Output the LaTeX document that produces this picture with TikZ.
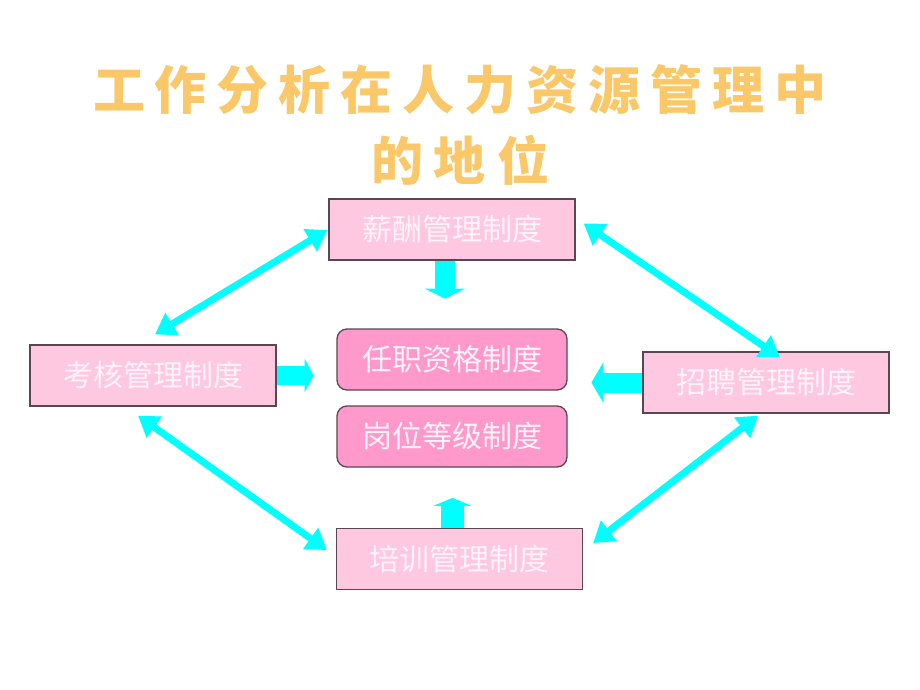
\documentclass[tikz,border=0pt]{standalone}
\usepackage{fontspec}
\newfontfamily\cjk{Noto Sans CJK SC}
\usetikzlibrary{arrows.meta,calc}
\definecolor{titlecol}{RGB}{250,200,105}
\definecolor{outerfill}{RGB}{255,200,225}
\definecolor{innerfill}{RGB}{255,153,204}
\definecolor{boxline}{RGB}{90,70,80}
\definecolor{boxtext}{RGB}{255,242,248}
\definecolor{arrowcyan}{RGB}{0,255,255}
\newcommand{\tch}[1]{\makebox[62pt]{#1}}
\newcommand{\tchb}[1]{\makebox[63pt]{#1}}
\begin{document}
\begin{tikzpicture}[x=1pt,y=-1pt,
  outerbox/.style={draw=boxline, line width=1.3pt, fill=outerfill, inner sep=0pt,
    minimum width=246pt, minimum height=61pt, font=\cjk\fontsize{30}{32}\selectfont, text=boxtext},
  innerbox/.style={draw=boxline, line width=1.3pt, fill=innerfill, inner sep=0pt, rounded corners=10pt,
    minimum width=230pt, minimum height=61pt, font=\cjk\fontsize{30}{32}\selectfont, text=boxtext},
  twoway/.style={draw=arrowcyan, line width=7pt,
    {Triangle[width=25pt,length=20pt]}-{Triangle[width=25pt,length=20pt]}},
  titletext/.style={text=titlecol, font=\cjk\bfseries\fontsize{52}{56}\selectfont, inner sep=0pt}
]
\useasboundingbox[fill=white] (0,0) rectangle (920,690);

% title
\node[titletext] (t1) at (460,90) {\tch{工}\tch{作}\tch{分}\tch{析}\tch{在}\tch{人}\tch{力}\tch{资}\tch{源}\tch{管}\tch{理}\tch{中}};
\node[titletext] (t2) at (460,160) {\tchb{的}\tchb{地}\tchb{位}};

% boxes
\node[outerbox] (xc) at (452,229.5) {薪酬管理制度};
\node[outerbox] (kh) at (153,375.5) {考核管理制度};
\node[outerbox] (zp) at (766,382.5) {招聘管理制度};
\node[outerbox] (px) at (459.5,559) {培训管理制度};
\node[innerbox] (rz) at (452,359.5) {任职资格制度};
\node[innerbox] (gw) at (452,436.5) {岗位等级制度};

% double-headed connectors
\coordinate (a1) at ($(xc.west)+(-1,0.5)$);
\coordinate (a2) at ($(kh.north)+(2,-10)$);
\coordinate (b1) at ($(xc.east)+(8,-6)$);
\coordinate (b2) at ($(zp.north)+(14,6)$);
\coordinate (c1) at ($(kh.south)+(-15,9)$);
\coordinate (c2) at ($(px.west)+(-9,-9)$);
\coordinate (d1) at ($(zp.south)+(-8,2)$);
\coordinate (d2) at ($(px.east)+(10,-16)$);
\draw[twoway] (a1) -- (a2);
\draw[twoway] (b1) -- (b2);
\draw[twoway] (c1) -- (c2);
\draw[twoway] (d1) -- (d2);

% block arrows
\coordinate (e1) at ($(xc.south)+(-7,0)$);
\coordinate (e2) at ($(e1)+(0,38)$);
\draw[draw=arrowcyan, line width=20pt, -{Triangle[width=40pt,length=10pt]}] (e1) -- (e2);
\coordinate (f2) at ($(kh.east)+(37,0)$);
\draw[draw=arrowcyan, line width=19pt, -{Triangle[width=33pt,length=9pt]}] (kh.east) -- (f2);
\coordinate (g2) at ($(zp.west)+(-51,0)$);
\draw[draw=arrowcyan, line width=20pt, -{Triangle[width=40pt,length=12pt]}] (zp.west) -- (g2);
\coordinate (h1) at ($(px.north)+(-7,0)$);
\coordinate (h2) at ($(h1)+(0,-30)$);
\draw[draw=arrowcyan, line width=23pt, -{Triangle[width=38pt,length=8pt]}] (h1) -- (h2);
\end{tikzpicture}
\end{document}
